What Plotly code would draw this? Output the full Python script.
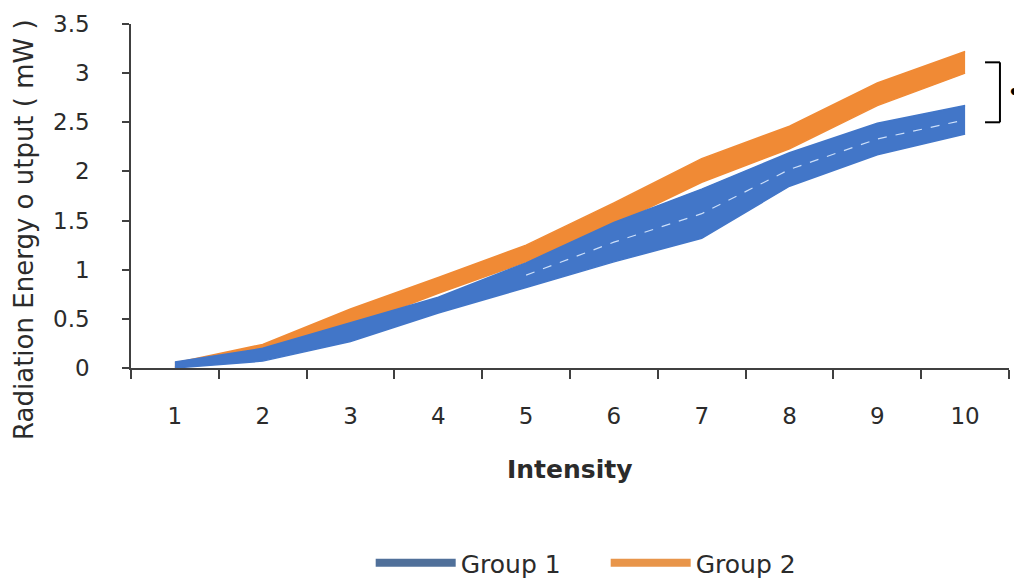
import plotly.graph_objects as go

# ---- data ----
intensity = ["1", "2", "3", "4", "5", "6", "7", "8", "9", "10"]
group1_upper = [0.06, 0.20, 0.46, 0.72, 1.07, 1.48, 1.82, 2.19, 2.49, 2.67]
group1_lower = [0.00, 0.07, 0.27, 0.56, 0.82, 1.08, 1.32, 1.85, 2.17, 2.38]
group2_upper = [0.05, 0.24, 0.60, 0.92, 1.25, 1.68, 2.13, 2.46, 2.90, 3.22]
group2_lower = [0.01, 0.12, 0.42, 0.76, 1.08, 1.46, 1.89, 2.23, 2.67, 3.00]
y_ticks = [0, 0.5, 1, 1.5, 2, 2.5, 3, 3.5]
y_tick_labels = ["0", "0.5", "1", "1.5", "2", "2.5", "3", "3.5"]
series_names = ["Group 1", "Group 2"]

BLUE = "#4276C8"
ORANGE = "#F08A35"
FONT = "'DejaVu Sans', sans-serif"
TXT = "#2b2b2b"

fig = go.Figure()

# Group 2 band (drawn first)
fig.add_trace(go.Scatter(x=intensity, y=group2_lower, mode="lines",
                         line=dict(color=ORANGE, width=1.5), showlegend=False, hoverinfo="skip"))
fig.add_trace(go.Scatter(x=intensity, y=group2_upper, mode="lines", fill="tonexty",
                         fillcolor=ORANGE, line=dict(color=ORANGE, width=1.5),
                         showlegend=False, hoverinfo="skip"))
# Group 1 band
fig.add_trace(go.Scatter(x=intensity, y=group1_lower, mode="lines",
                         line=dict(color=BLUE, width=1.5), opacity=0.9,
                         showlegend=False, hoverinfo="skip"))
fig.add_trace(go.Scatter(x=intensity, y=group1_upper, mode="lines", fill="tonexty",
                         fillcolor=BLUE, line=dict(color=BLUE, width=1.5), opacity=0.9,
                         showlegend=False, hoverinfo="skip"))
# white dashed centre line inside Group 1 band
g1_mid = [(a + b) / 2 for a, b in zip(group1_lower, group1_upper)]
fig.add_trace(go.Scatter(x=intensity[4:], y=g1_mid[4:], mode="lines",
                         line=dict(color="rgba(220,235,255,0.9)", width=1.2, dash="dash"),
                         showlegend=False, hoverinfo="skip"))

# legend entries
fig.add_trace(go.Scatter(x=[None], y=[None], mode="lines", name=series_names[0],
                         line=dict(color="#50709A", width=8)))
fig.add_trace(go.Scatter(x=[None], y=[None], mode="lines", name=series_names[1],
                         line=dict(color="#E8954A", width=8)))

# significance bracket
bracket_top, bracket_bot = 3.11, 2.50
line_style = dict(color="black", width=2)
fig.add_shape(type="line", xref="paper", yref="y", x0=0.9897, x1=0.9897,
              y0=bracket_bot, y1=bracket_top, line=line_style)
fig.add_shape(type="line", xref="paper", yref="y", x0=0.9727, x1=0.9897,
              y0=bracket_top, y1=bracket_top, line=line_style)
fig.add_shape(type="line", xref="paper", yref="y", x0=0.9727, x1=0.9897,
              y0=bracket_bot, y1=bracket_bot, line=line_style)
fig.add_annotation(xref="paper", yref="y", x=1.0155, y=(bracket_top + bracket_bot) / 2,
                   text="<b>•</b>", showarrow=False, font=dict(size=20, color="black"))

# y-axis title
fig.add_annotation(xref="paper", yref="paper", x=-0.122, y=0.404,
                   xanchor="center", yanchor="middle",
                   text="Radiation Energy o utput ( mW )", textangle=-90,
                   showarrow=False, font=dict(family=FONT, size=26, color=TXT))
# x-axis title
fig.add_annotation(xref="paper", yref="paper", x=0.5, y=-0.2965,
                   xanchor="center", yanchor="middle",
                   text="<b>Intensity</b>", showarrow=False,
                   font=dict(family=FONT, size=25, color=TXT))

# page body has an 8px margin, so the figure is 1014x574 and margins are offset
fig.update_layout(
    width=1014, height=574,
    margin=dict(l=123, r=13, t=16, b=214, autoexpand=False),
    paper_bgcolor="white", plot_bgcolor="white",
    font=dict(family=FONT, size=24, color=TXT),
    legend=dict(orientation="h", traceorder="normal", x=0.273, xanchor="left",
                y=-0.567, yanchor="middle", itemwidth=80,
                entrywidth=140, entrywidthmode="pixels",
                font=dict(family=FONT, size=25, color=TXT)),
    xaxis=dict(type="category", range=[-0.5, 9.5], showgrid=False,
               showline=True, linecolor="#404040", linewidth=1.5,
               ticks="outside", ticklen=9, tickcolor="#404040", tickwidth=1.5,
               tickson="boundaries", ticklabelstandoff=27,
               tickfont=dict(family=FONT, size=23, color=TXT)),
    yaxis=dict(range=[0, 3.5], tickvals=y_ticks, ticktext=y_tick_labels,
               showgrid=False, zeroline=False,
               showline=True, linecolor="#404040", linewidth=1.5,
               ticks="outside", ticklen=7, tickcolor="#404040", tickwidth=1.5,
               ticklabelstandoff=28,
               tickfont=dict(family=FONT, size=23, color=TXT)),
)

fig.write_html("out.html")
